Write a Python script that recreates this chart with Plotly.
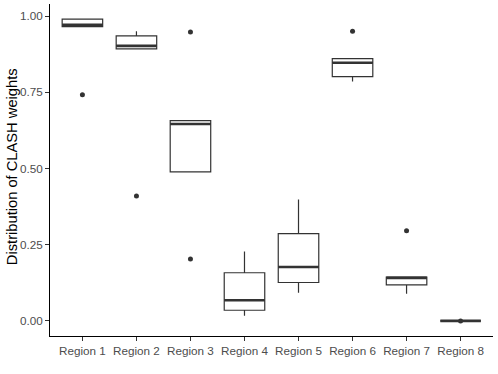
import plotly.graph_objects as go

regions = ["Region 1", "Region 2", "Region 3", "Region 4", "Region 5", "Region 6", "Region 7", "Region 8"]
q1 = [0.965, 0.892, 0.489, 0.035, 0.126, 0.801, 0.118, 0.0]
median = [0.971, 0.902, 0.646, 0.068, 0.177, 0.847, 0.141, 0.0]
q3 = [0.990, 0.935, 0.657, 0.158, 0.286, 0.860, 0.144, 0.0]
lower_whisker = [0.965, 0.892, 0.489, 0.017, 0.092, 0.785, 0.089, 0.0]
upper_whisker = [0.990, 0.950, 0.657, 0.228, 0.398, 0.860, 0.144, 0.0]
outlier_region = ["Region 1", "Region 2", "Region 3", "Region 3", "Region 6", "Region 7", "Region 8"]
outlier_value = [0.742, 0.410, 0.948, 0.203, 0.950, 0.296, 0.0]
y_title = "Distribution of CLASH weights"

idx = {r: i for i, r in enumerate(regions)}
xs = list(range(len(regions)))
BOXW = 0.75
DARK = "#333333"
FONT = "Liberation Sans, Arial, sans-serif"

fig = go.Figure()
fig.add_trace(go.Box(
    x=xs, q1=q1, median=median, q3=q3,
    lowerfence=lower_whisker, upperfence=upper_whisker,
    width=BOXW, whiskerwidth=0,
    fillcolor="white", line=dict(color=DARK, width=1.2),
    boxpoints=False, showlegend=False, hoverinfo="skip",
))
# thicker median lines (ggplot fatten)
mx, my = [], []
for i, m in zip(xs, median):
    mx += [i - BOXW / 2, i + BOXW / 2, None]
    my += [m, m, None]
fig.add_trace(go.Scatter(x=mx, y=my, mode="lines", line=dict(color=DARK, width=2.6),
                         showlegend=False, hoverinfo="skip"))
fig.add_trace(go.Scatter(
    x=[idx[r] for r in outlier_region], y=outlier_value, mode="markers",
    marker=dict(color=DARK, size=5), showlegend=False, hoverinfo="skip"))

axis_common = dict(
    showgrid=False, zeroline=False, showline=True, linecolor="black", linewidth=1.2,
    ticks="outside", ticklen=3.7, tickwidth=1.1, tickcolor=DARK,
    tickfont=dict(family=FONT, size=11.7, color="#4D4D4D"),
)
fig.update_layout(
    width=498, height=374,
    margin=dict(l=50, r=5, t=4, b=38),
    plot_bgcolor="white", paper_bgcolor="white",
    xaxis=dict(range=[-0.6, 7.6], tickvals=xs, ticktext=regions, **axis_common),
    yaxis=dict(range=[-0.0495, 1.0395], tickvals=[0, 0.25, 0.5, 0.75, 1.0],
               ticktext=["0.00", "0.25", "0.50", "0.75", "1.00"], **axis_common),
    annotations=[dict(text=y_title, textangle=-90, xref="paper", yref="paper",
                      x=-0.087, y=0.51, xanchor="center", yanchor="middle", showarrow=False,
                      font=dict(family=FONT, size=14.7, color="black"))],
)
fig.write_html("out.html", config={"displayModeBar": False},
               post_script="document.body.style.margin='0';document.body.style.overflow='hidden';")
